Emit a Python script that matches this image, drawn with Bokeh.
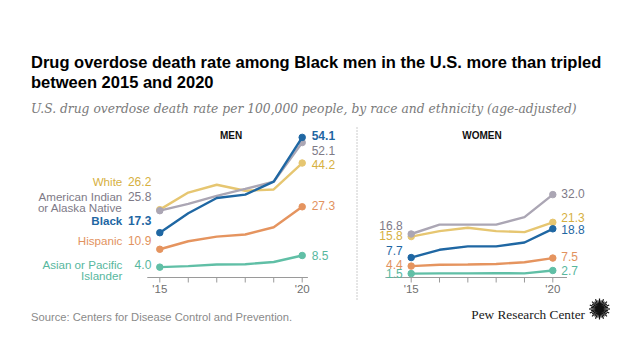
import math
from bokeh.plotting import figure
from bokeh.models import Range1d
from bokeh.core.properties import value
from bokeh.embed import file_html
from bokeh.resources import INLINE

# ---------------- data ----------------
years = [2015, 2016, 2017, 2018, 2019, 2020]
tick_labels = ["'15", "'20"]
tick_years = [2015, 2020]

groups = ["White", "American Indian or Alaska Native", "Black", "Hispanic", "Asian or Pacific Islander"]

men_white = [26.2, 32.8, 35.8, 33.5, 34.0, 44.2]
men_aian = [25.8, 28.4, 31.5, 34.2, 37.0, 52.1]
men_black = [17.3, 24.8, 30.7, 32.0, 37.0, 54.1]
men_hispanic = [10.9, 14.0, 15.8, 16.6, 19.4, 27.3]
men_asian = [4.0, 4.4, 5.0, 5.1, 6.0, 8.5]

women_white = [15.8, 17.9, 19.2, 17.9, 17.5, 21.3]
women_aian = [16.8, 20.4, 20.4, 20.4, 23.3, 32.0]
women_black = [7.7, 10.7, 12.0, 12.0, 13.5, 18.8]
women_hispanic = [4.4, 4.9, 5.0, 5.2, 5.9, 7.5]
women_asian = [1.5, 1.6, 1.6, 1.7, 1.6, 2.7]

title_lines = ["Drug overdose death rate among Black men in the U.S. more than tripled",
               "between 2015 and 2020"]
subtitle = "U.S. drug overdose death rate per 100,000 people, by race and ethnicity (age-adjusted)"
source = "Source: Centers for Disease Control and Prevention."
brand = "Pew Research Center"

# ---------------- style ----------------
line_col = {"White": "#e6c671", "American Indian or Alaska Native": "#aba6b4", "Black": "#1f67a3",
            "Hispanic": "#e5945f", "Asian or Pacific Islander": "#60bfa6"}
text_col = {"White": "#d6b041", "American Indian or Alaska Native": "#7e7a87", "Black": "#1f67a3",
            "Hispanic": "#e2925e", "Asian or Pacific Islander": "#57b79e"}
SANS = value("Liberation Sans")

W, H = 624, 344
O = 0  # canvas origin in page pixels
p = figure(width=W, height=H, output_backend="svg", toolbar_location=None,
           x_range=Range1d(O, O + W), y_range=Range1d(O + H, O),
           x_axis_location=None, y_axis_location=None, min_border=0,
           background_fill_color="white", border_fill_color="white", outline_line_color=None)
p.grid.visible = False

# panel scales (page pixel anchors)
PX_Y0 = 277.0
PX_PER_UNIT = 2.59
def yr_range(px15, px20):
    ppy = (px20 - px15) / 5.0
    return Range1d(2015 - (px15 - O) / ppy, 2015 + (O + W - px15) / ppy)
p.extra_x_ranges = {"men": yr_range(159.3, 301.7), "women": yr_range(410.7, 552.3)}
p.extra_y_ranges = {"rate": Range1d(-(O + H - PX_Y0) / PX_PER_UNIT, (PX_Y0 - O) / PX_PER_UNIT)}

panels = {
    "men": {"White": men_white, "American Indian or Alaska Native": men_aian, "Black": men_black,
            "Hispanic": men_hispanic, "Asian or Pacific Islander": men_asian},
    "women": {"White": women_white, "American Indian or Alaska Native": women_aian, "Black": women_black,
              "Hispanic": women_hispanic, "Asian or Pacific Islander": women_asian},
}
axis_ext = {"men": (2014.56, 2020.2), "women": (2014.09, 2020.5)}

draw_order = ["Asian or Pacific Islander", "Hispanic", "White", "American Indian or Alaska Native", "Black"]
for panel, series in panels.items():
    # axis
    a0, a1 = axis_ext[panel]
    p.segment(x0=[a0], y0=[0], x1=[a1], y1=[0], x_range_name=panel, y_range_name="rate",
              line_color="#9a9a9a", line_width=1)
    p.segment(x0=years, y0=[0] * len(years), x1=years, y1=[-5 / PX_PER_UNIT] * len(years),
              x_range_name=panel, y_range_name="rate", line_color="#9a9a9a", line_width=1)
    p.text(x=tick_years, y=[288.5, 288.5], text=tick_labels, x_range_name=panel,
           text_align="center", text_baseline="middle", text_font=SANS,
           text_font_size="11.5px", text_color="#6f6f6f")
    for g in draw_order:
        vals = series[g]
        p.line(years, vals, x_range_name=panel, y_range_name="rate",
               line_color=line_col[g], line_width=2.4)
        p.scatter([years[0], years[-1]], [vals[0], vals[-1]], x_range_name=panel, y_range_name="rate",
                  size=6.5, fill_color=line_col[g], line_color=line_col[g])

def lab(panel, yr, y, txt, color, align, bold=False, dx=0, size="12px"):
    p.text(x=[yr], y=[y], text=[txt], x_range_name=panel, x_offset=dx,
           text_align=align, text_baseline="middle", text_font=SANS,
           text_font_size=size, text_color=color,
           text_font_style="bold" if bold else "normal")

# ---- men labels ----
men_left = {"White": 181, "American Indian or Alaska Native": 195.5, "Black": 220,
            "Hispanic": 239.5, "Asian or Pacific Islander": 263.5}
name_lines = {"White": ["White"], "American Indian or Alaska Native": ["American Indian", "or Alaska Native"],
              "Black": ["Black"], "Hispanic": ["Hispanic"], "Asian or Pacific Islander": ["Asian or Pacific", "Islander"]}
for g, y in men_left.items():
    bold = g == "Black"
    lab("men", 2015, y, f"{panels['men'][g][0]:.1f}", text_col[g], "right", bold, dx=-8.5)
    for i, nl in enumerate(name_lines[g]):
        lab("men", 2015, y + i * 11.5, nl, text_col[g], "right", bold, dx=-37.5, size="11.6px")
men_right = {"Black": 135, "American Indian or Alaska Native": 149.5, "White": 164,
             "Hispanic": 205, "Asian or Pacific Islander": 255}
for g, y in men_right.items():
    lab("men", 2020, y, f"{panels['men'][g][-1]:.1f}", text_col[g], "left", g == "Black", dx=9.5)

# ---- women labels ----
women_left = {"American Indian or Alaska Native": 224.5, "White": 234.5, "Black": 250,
              "Hispanic": 263.5, "Asian or Pacific Islander": 272.5}
for g, y in women_left.items():
    lab("women", 2015, y, f"{panels['women'][g][0]:.1f}", text_col[g], "right", dx=-8.5)
women_right = {"American Indian or Alaska Native": 193, "White": 217, "Black": 228.5,
               "Hispanic": 256, "Asian or Pacific Islander": 269.5}
for g, y in women_right.items():
    lab("women", 2020, y, f"{panels['women'][g][-1]:.1f}", text_col[g], "left", dx=8.5)

# panel headers
p.text(x=[2017.5], y=[135], text=["MEN"], x_range_name="men", text_align="center",
       text_baseline="middle", text_font=SANS, text_font_size="10px", text_font_style="bold",
       text_color="#111111")
p.text(x=[2017.5], y=[135], text=["WOMEN"], x_range_name="women", text_align="center",
       text_baseline="middle", text_font=SANS, text_font_size="10px", text_font_style="bold",
       text_color="#111111")

# divider
p.segment(x0=[356.5], y0=[127], x1=[356.5], y1=[299], line_color="#999999", line_width=1,
          line_dash="1 2")

# title, subtitle
p.text(x=[30.5, 30.5], y=[61, 81], text=title_lines, text_align="left", text_baseline="alphabetic",
       text_font=SANS, text_font_size="16.5px", text_font_style="bold", text_color="#000000")
p.text(x=[30.5], y=[108.5], text=[subtitle], text_align="left", text_baseline="alphabetic",
       text_font=value("DejaVu Serif"), text_font_size="12.3px", text_font_style="italic",
       text_color="#7a7a7a")

# footer
p.text(x=[30.5], y=[316], text=[source], text_align="left", text_baseline="alphabetic",
       text_font=SANS, text_font_size="11.2px", text_color="#8a8a8a")
p.text(x=[584.5], y=[314], text=[brand], text_align="right", text_baseline="alphabetic",
       text_font=value("Liberation Serif"), text_font_size="13.3px", text_color="#1a1a1a")

# logo sunburst
cx, cy = 599.0, 308.5
n = 32
xs0, ys0, xs1, ys1 = [], [], [], []
for k in range(n):
    ang = 2 * math.pi * k / n
    r1 = 10.5 if k % 2 == 0 else 8.8
    xs0.append(cx + 3 * math.cos(ang)); ys0.append(cy + 3 * math.sin(ang))
    xs1.append(cx + r1 * math.cos(ang)); ys1.append(cy + r1 * math.sin(ang))
p.segment(x0=xs0, y0=ys0, x1=xs1, y1=ys1, line_color="#111111", line_width=1.2)
p.scatter([cx], [cy], size=7, fill_color="#111111", line_color="#111111")

open("out.html", "w").write(file_html(p, INLINE))
